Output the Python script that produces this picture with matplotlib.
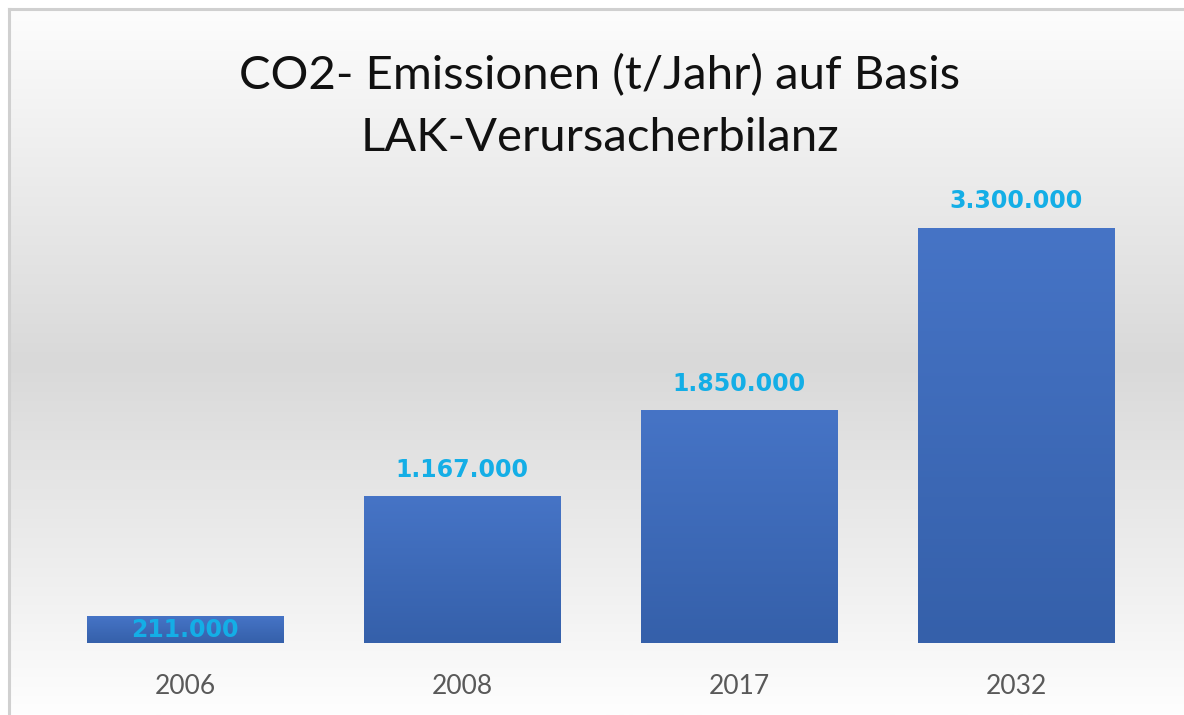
import numpy as np
import matplotlib
matplotlib.use("Agg")
import matplotlib.pyplot as plt
from matplotlib.colors import LinearSegmentedColormap
from matplotlib.lines import Line2D

# Daten
jahre = ["2006", "2008", "2017", "2032"]
emissionen = [211000, 1167000, 1850000, 3300000]
beschriftung = ["211.000", "1.167.000", "1.850.000", "3.300.000"]

titel_1 = "CO2- Emissionen (t/Jahr) auf Basis"
titel_2 = "LAK-Verursacherbilanz"

W, H = 1184, 715
fig = plt.figure(figsize=(W / 100, H / 100), dpi=100)
fig.patch.set_facecolor("white")

## Hintergrund mit grauem Verlauf
bg = fig.add_axes([10 / W, 0, 1 - 10 / W, 1 - 10 / H])
bg.axis("off")
grau = LinearSegmentedColormap.from_list(
    "grau", [(0, "#fdfdfd"), (0.18, "#f0f0f0"), (0.5, "#d9d9d9"), (0.82, "#f0f0f0"), (1, "#fefefe")])
bg.imshow(np.linspace(0, 1, 256).reshape(-1, 1), cmap=grau, aspect="auto", extent=[0, 1, 0, 1])
bg.set_xlim(0, 1)
bg.set_ylim(0, 1)

# Rahmen links und oben
fig.add_artist(Line2D([9 / W, 9 / W], [0, 1 - 9 / H], color="#d0d0d0", lw=2.2))
fig.add_artist(Line2D([9 / W, 1], [1 - 9 / H, 1 - 9 / H], color="#d0d0d0", lw=2.2))

## Titel
fig.text(600 / W, 1 - 89 / H, titel_1, ha="center", va="baseline",
         fontsize=34, family="Lato", color="#111111")
fig.text(600 / W, 1 - 151 / H, titel_2, ha="center", va="baseline",
         fontsize=34, family="Lato", color="#111111")

## Balken
ax = fig.add_axes([46.5 / W, 72 / H, 1108.5 / W, 453 / H])
ax.patch.set_alpha(0)
x = np.arange(len(jahre))
balken = ax.bar(x, emissionen, width=0.71, color="#4472c4", edgecolor="none")

blau = LinearSegmentedColormap.from_list("blau", ["#4674c6", "#3560aa"])
for b in balken:
    x0, y0 = b.get_x(), b.get_y()
    bw, bh = b.get_width(), b.get_height()
    im = ax.imshow(np.linspace(0, 1, 128).reshape(-1, 1), cmap=blau, aspect="auto",
                   extent=[x0, x0 + bw, y0, y0 + bh], origin="upper", zorder=2)
    im.set_clip_path(b)
ax.set_xlim(-0.5, len(jahre) - 0.5)
ax.set_ylim(0, 453 / 125.8 * 1e6)

for xi, wert, txt in zip(x, emissionen, beschriftung):
    if wert < 0.1 * max(emissionen):
        ax.text(xi, wert / 2, txt, ha="center", va="center", fontsize=17,
                fontweight="bold", color="#14aee6", zorder=3)
    else:
        ax.annotate(txt, (xi, wert), xytext=(0, 10.5), textcoords="offset points",
                    ha="center", va="bottom", fontsize=17, fontweight="bold",
                    color="#14aee6", zorder=3)

ax.set_xticks(x)
ax.set_xticklabels(jahre, fontsize=19, family="Lato", color="#595959")
ax.tick_params(axis="x", length=0, pad=22)
ax.set_yticks([])
for s in ax.spines.values():
    s.set_visible(False)

plt.savefig("out.png", dpi=100)
plt.close()
